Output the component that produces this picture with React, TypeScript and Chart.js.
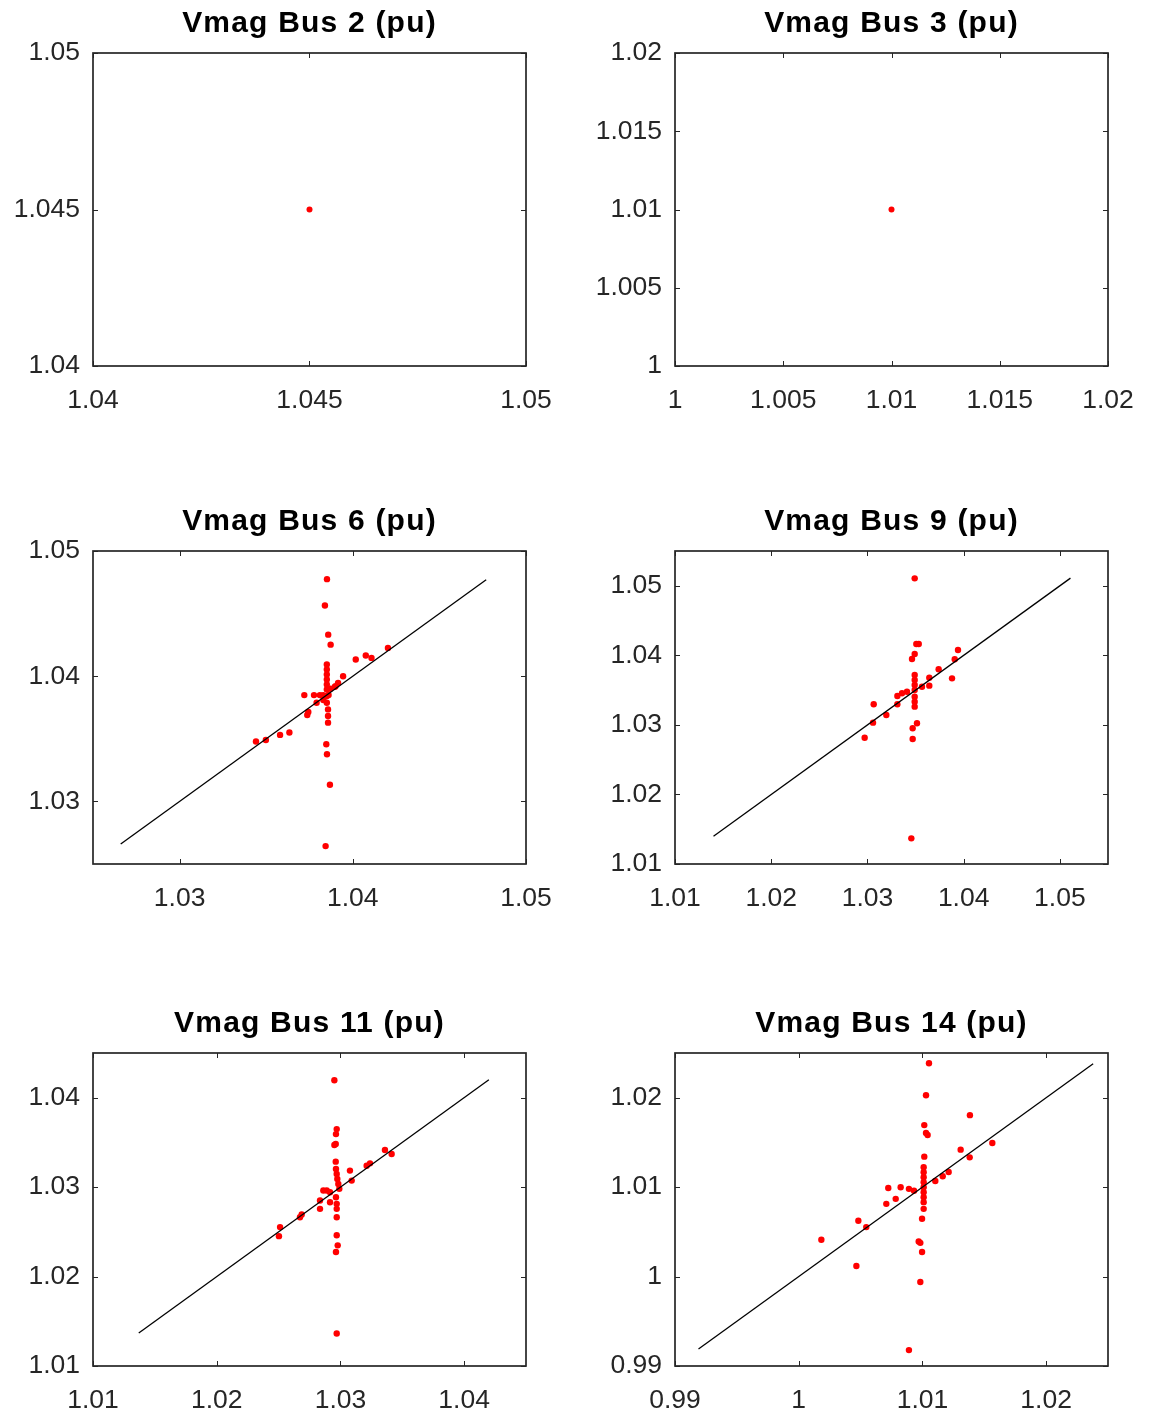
import React, { useEffect, useRef } from 'react';
import { Chart, registerables } from 'chart.js';

Chart.register(...registerables);

const FONT = "'Liberation Sans', Arial, Helvetica, sans-serif";

// ---- Bus 2 ----
const bus2Title = 'Vmag Bus 2 (pu)';
const bus2X = [1.045];
const bus2Y = [1.045];
const bus2Range = [1.04, 1.05];
const bus2Ticks = [1.04, 1.045, 1.05];

// ---- Bus 3 ----
const bus3Title = 'Vmag Bus 3 (pu)';
const bus3X = [1.01];
const bus3Y = [1.01];
const bus3Range = [1, 1.02];
const bus3Ticks = [1, 1.005, 1.01, 1.015, 1.02];

// ---- Bus 6 ----
const bus6Title = 'Vmag Bus 6 (pu)';
const bus6X = [
  1.03851, 1.03839, 1.03858, 1.03872,
  1.0385, 1.0385, 1.0385, 1.0385, 1.0385, 1.0385, 1.0385, 1.0385, 1.03857, 1.03857, 1.03857,
  1.03847, 1.03851, 1.03868, 1.03843,
  1.04017, 1.04075, 1.04108, 1.04203,
  1.03944, 1.03915, 1.03896,
  1.0372, 1.03776, 1.0381, 1.03829,
  1.03791, 1.03743, 1.03737,
  1.03634, 1.0358, 1.03498, 1.03441,
  1.0386, 1.0387, 1.0383, 1.039,
];
const bus6Y = [
  1.04775, 1.04565, 1.04332, 1.04252,
  1.04093, 1.04053, 1.04014, 1.03974, 1.03934, 1.03894, 1.03841, 1.03788, 1.03735, 1.03682, 1.03629,
  1.03457, 1.03377, 1.03133, 1.02643,
  1.04133, 1.04165, 1.04146, 1.04226,
  1.04, 1.03947, 1.03915,
  1.03849, 1.03849, 1.03849, 1.03849,
  1.03788, 1.03714, 1.0369,
  1.0355, 1.03531, 1.03491, 1.03478,
  1.0385, 1.039, 1.0381, 1.0392,
];
const bus6Line = [1.0266, 1.0477];
const bus6Range = [1.025, 1.05];
const bus6Ticks = [1.03, 1.04, 1.05];

// ---- Bus 9 ----
const bus9Title = 'Vmag Bus 9 (pu)';
const bus9X = [
  1.03491, 1.03508, 1.03533, 1.03491, 1.03463,
  1.03941, 1.03907, 1.0374, 1.03643, 1.03643, 1.03879,
  1.03491, 1.03491, 1.03491, 1.03491, 1.03491, 1.03491, 1.03491,
  1.03411, 1.03359, 1.03311, 1.03567,
  1.03065, 1.03311, 1.03196, 1.03058,
  1.03515, 1.0347, 1.02971, 1.0347, 1.03456,
];
const bus9Y = [
  1.05107, 1.04163, 1.04163, 1.04019, 1.03947,
  1.04077, 1.03943, 1.03799, 1.03679, 1.03564, 1.03669,
  1.03717, 1.03645, 1.03574, 1.03502, 1.03405, 1.03334, 1.03262,
  1.03477, 1.03454, 1.03415, 1.03549,
  1.03296, 1.03296, 1.03142, 1.03032,
  1.03023, 1.02951, 1.02816, 1.02797, 1.01369,
];
const bus9Line = [1.014, 1.0511];
const bus9Range = [1.01, 1.055];
const bus9Ticks = [1.01, 1.02, 1.03, 1.04, 1.05];

// ---- Bus 11 ----
const bus11Title = 'Vmag Bus 11 (pu)';
const bus11X = [
  1.02951, 1.0297, 1.02964, 1.02962, 1.02951,
  1.02962, 1.02964, 1.0297, 1.02975, 1.02983, 1.02991,
  1.03077, 1.03091, 1.03212, 1.03239, 1.0336, 1.03414,
  1.02862, 1.02889, 1.02916,
  1.02835, 1.02916, 1.02964, 1.0297, 1.0297, 1.0297,
  1.02835, 1.02673, 1.02687, 1.02512, 1.02503,
  1.0297, 1.02978, 1.02964, 1.0297,
];
const bus11Y = [
  1.04195, 1.03649, 1.03593, 1.03482, 1.03471,
  1.03285, 1.03203, 1.03148, 1.03092, 1.03036, 1.02981,
  1.03185, 1.03073, 1.0324, 1.03266, 1.03415, 1.0337,
  1.02962, 1.02962, 1.02943,
  1.0285, 1.02831, 1.02887, 1.02813, 1.02757, 1.02664,
  1.02757, 1.02664, 1.02694, 1.02553, 1.02452,
  1.02462, 1.02349, 1.02274, 1.01364,
];
const bus11Line = [1.0137, 1.042];
const bus11Range = [1.01, 1.045];
const bus11Ticks = [1.01, 1.02, 1.03, 1.04];

// ---- Bus 14 ----
const bus14Title = 'Vmag Bus 14 (pu)';
const bus14X = [
  1.01053, 1.01029, 1.01015, 1.01029, 1.01042,
  1.01384, 1.01565, 1.01309, 1.01382, 1.01015,
  1.0101, 1.0101, 1.0101, 1.0101, 1.0101, 1.0101, 1.0101, 1.0101, 1.0101,
  1.01212, 1.01164, 1.01104,
  1.00724, 1.00824, 1.00891, 1.00932,
  1.00784, 1.00708, 1.00997, 1.00482, 1.00546, 1.00183,
  1.0097, 1.00983, 1.00997, 1.00466, 1.00983, 1.00891,
];
const bus14Y = [
  1.02385, 1.02028, 1.01694, 1.01605, 1.01583,
  1.01805, 1.01493, 1.01419, 1.01333, 1.01341,
  1.01222, 1.01166, 1.01112, 1.01054, 1.00999, 1.00943, 1.00887, 1.00832, 1.00757,
  1.0117, 1.01122, 1.01068,
  1.00991, 1.00999, 1.00981, 1.0096,
  1.00869, 1.00813, 1.00646, 1.00624, 1.00553, 1.00412,
  1.00393, 1.00377, 1.00274, 1.00118, 0.9994, 0.99178,
];
const bus14Line = [0.9919, 1.0238];
const bus14Range = [0.99, 1.025];
const bus14Ticks = [0.99, 1, 1.01, 1.02];

type PanelDef = {
  title: string;
  xs: number[];
  ys: number[];
  line: number[] | null;
  range: number[];
  ticks: number[];
  col: number;
  row: number;
  radius: number;
};

const panels: PanelDef[] = [
  { title: bus2Title, xs: bus2X, ys: bus2Y, line: null, range: bus2Range, ticks: bus2Ticks, col: 0, row: 0, radius: 3 },
  { title: bus3Title, xs: bus3X, ys: bus3Y, line: null, range: bus3Range, ticks: bus3Ticks, col: 1, row: 0, radius: 3 },
  { title: bus6Title, xs: bus6X, ys: bus6Y, line: bus6Line, range: bus6Range, ticks: bus6Ticks, col: 0, row: 1, radius: 3.2 },
  { title: bus9Title, xs: bus9X, ys: bus9Y, line: bus9Line, range: bus9Range, ticks: bus9Ticks, col: 1, row: 1, radius: 3.2 },
  { title: bus11Title, xs: bus11X, ys: bus11Y, line: bus11Line, range: bus11Range, ticks: bus11Ticks, col: 0, row: 2, radius: 3.2 },
  { title: bus14Title, xs: bus14X, ys: bus14Y, line: bus14Line, range: bus14Range, ticks: bus14Ticks, col: 1, row: 2, radius: 3.2 },
];

const COLS = [
  { left: 0, width: 560, yAxisW: 93, padRight: 34 },
  { left: 575, width: 574, yAxisW: 100, padRight: 41 },
];
const ROW_TOPS = [0, 498, 1000];
const CANVAS_H = 416;
const AREA_TOP = 53;
const AREA_H = 313;

const AXIS_COLOR = '#262626';

const panelDecor = {
  id: 'panelDecor',
  afterDraw(chart: any, _args: any, opts: any) {
    const { ctx, chartArea: a, scales } = chart;
    ctx.save();
    ctx.strokeStyle = AXIS_COLOR;
    ctx.lineWidth = 1;
    const tl = 5;
    scales.x.ticks.forEach((t: any) => {
      const px = Math.round(scales.x.getPixelForValue(t.value)) + 0.5;
      ctx.beginPath();
      ctx.moveTo(px, a.bottom);
      ctx.lineTo(px, a.bottom - tl);
      ctx.moveTo(px, a.top);
      ctx.lineTo(px, a.top + tl);
      ctx.stroke();
    });
    scales.y.ticks.forEach((t: any) => {
      const py = Math.round(scales.y.getPixelForValue(t.value)) + 0.5;
      ctx.beginPath();
      ctx.moveTo(a.left, py);
      ctx.lineTo(a.left + tl, py);
      ctx.moveTo(a.right, py);
      ctx.lineTo(a.right - tl, py);
      ctx.stroke();
    });
    ctx.lineWidth = 1.7;
    ctx.strokeRect(a.left, a.top, a.right - a.left, a.bottom - a.top);
    ctx.fillStyle = '#000';
    ctx.font = `bold 30px ${FONT}`;
    ctx.textAlign = 'center';
    ctx.textBaseline = 'middle';
    try {
      (ctx as any).letterSpacing = '1.2px';
    } catch (e) {}
    ctx.fillText(opts.text, (a.left + a.right) / 2, a.top - 29);
    ctx.restore();
  },
};

function Panel({ p }: { p: PanelDef }) {
  const ref = useRef<HTMLCanvasElement | null>(null);
  const col = COLS[p.col];
  useEffect(() => {
    if (!ref.current) return;
    const pts = p.xs.map((x, i) => ({ x, y: p.ys[i] }));
    const datasets: any[] = [];
    if (p.line) {
      datasets.push({
        type: 'line',
        data: [
          { x: p.line[0], y: p.line[0] },
          { x: p.line[1], y: p.line[1] },
        ],
        borderColor: '#000000',
        borderWidth: 1.3,
        pointRadius: 0,
        showLine: true,
        fill: false,
      });
    }
    datasets.push({
      type: 'scatter',
      data: pts,
      pointRadius: p.radius,
      pointBackgroundColor: '#ff0000',
      pointBorderWidth: 0,
      borderWidth: 0,
      backgroundColor: '#ff0000',
    });
    const tickFont = { family: FONT, size: 26.5 };
    const fmt = (v: any) => String(Number(v));
    const chart = new Chart(ref.current, {
      type: 'scatter',
      data: { datasets },
      options: {
        animation: false,
        responsive: false,
        maintainAspectRatio: false,
        events: [],
        layout: { padding: { top: AREA_TOP, right: col.padRight, bottom: 0, left: 0 } },
        plugins: {
          legend: { display: false },
          tooltip: { enabled: false },
          title: { display: false },
          panelDecor: { text: p.title },
        } as any,
        scales: {
          x: {
            type: 'linear',
            min: p.range[0],
            max: p.range[1],
            grid: { display: false, drawTicks: false, tickLength: 0 },
            border: { display: false },
            ticks: {
              font: tickFont,
              color: AXIS_COLOR,
              padding: 19,
              maxRotation: 0,
              minRotation: 0,
              autoSkip: false,
              callback: fmt,
            },
            afterBuildTicks: (s: any) => {
              s.ticks = p.ticks.map((v) => ({ value: v }));
            },
            afterFit: (s: any) => {
              s.height = CANVAS_H - AREA_TOP - AREA_H;
              s.paddingLeft = 0;
              s.paddingRight = 0;
            },
          },
          y: {
            type: 'linear',
            min: p.range[0],
            max: p.range[1],
            grid: { display: false, drawTicks: false, tickLength: 0 },
            border: { display: false },
            ticks: {
              font: tickFont,
              color: AXIS_COLOR,
              padding: 13,
              autoSkip: false,
              callback: fmt,
            },
            afterBuildTicks: (s: any) => {
              s.ticks = p.ticks.map((v) => ({ value: v }));
            },
            afterFit: (s: any) => {
              s.width = col.yAxisW;
              s.paddingTop = 0;
              s.paddingBottom = 0;
            },
          },
        },
      } as any,
      plugins: [panelDecor as any],
    });
    return () => chart.destroy();
  }, []);
  return (
    <canvas
      ref={ref}
      width={col.width}
      height={CANVAS_H}
      style={{
        position: 'absolute',
        left: col.left,
        top: ROW_TOPS[p.row],
        width: col.width,
        height: CANVAS_H,
      }}
    />
  );
}

export default function App() {
  return (
    <div
      style={{
        position: 'absolute',
        left: 0,
        top: 0,
        width: 1149,
        height: 1416,
        overflow: 'hidden',
        background: '#ffffff',
      }}
    >
      {panels.map((p, i) => (
        <Panel key={i} p={p} />
      ))}
    </div>
  );
}
